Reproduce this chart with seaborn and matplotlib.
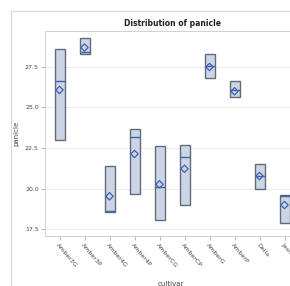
import numpy as np
import matplotlib
matplotlib.use("Agg")
import matplotlib.pyplot as plt
import seaborn as sns
import pandas as pd

cultivars = ["Amber3G", "Amber3P", "Amber4G", "Amber4P", "AmberCG",
             "AmberCP", "AmberG", "AmberP", "Della", "Jasmine"]
box_low = [23.0, 28.28, 18.55, 19.68, 18.04, 19.0, 26.82, 25.63, 19.99, 17.87]
box_high = [28.6, 29.27, 21.41, 23.65, 22.6, 22.7, 28.28, 26.64, 21.51, 19.6]
medians = [26.65, 28.4, 18.63, 23.2, 20.09, 21.93, 27.54, 26.06, 20.75, 19.52]
means = [26.08, 28.7, 19.52, 22.13, 20.26, 21.22, 27.5, 26.0, 20.77, 18.98]
yticks = [17.5, 20.0, 22.5, 25.0, 27.5]

sns.set_theme(style="white")
plt.rcParams['font.family'] = ['DejaVu Sans']

fig = plt.figure(figsize=(2.9, 2.86), dpi=100)
# outer graph frame
fig.patches.append(plt.Rectangle((11 / 290, -0.1), 1.2, 1 - 11 / 286 + 0.1,
                                 transform=fig.transFigure, fill=False,
                                 edgecolor="#d8d8d8", linewidth=0.8))
ax = fig.add_axes([45 / 290, 1 - 236 / 286, 251 / 290, 205 / 286])

stats = []
for i, c in enumerate(cultivars):
    stats.append({"label": c, "q1": box_low[i], "q3": box_high[i],
                  "med": medians[i], "mean": means[i],
                  "whislo": box_low[i], "whishi": box_high[i], "fliers": []})

ax.bxp(stats, positions=range(len(cultivars)), widths=0.4, patch_artist=True,
       showcaps=False, showfliers=False, showmeans=False,
       boxprops=dict(facecolor="#cbd5e6", edgecolor="#646b78", linewidth=1.0),
       medianprops=dict(color="#3f62b0", linewidth=1.0),
       whiskerprops=dict(linewidth=0))

df = pd.DataFrame({"cultivar": cultivars, "panicle": means})
sns.scatterplot(data=df, x="cultivar", y="panicle", ax=ax, marker="D", s=14,
                facecolor="none", edgecolor="#3f62b0", linewidth=0.9, zorder=5)

ax.set_xlim(-0.58, 9.46)
ax.set_ylim(17.07, 29.72)
ax.set_yticks(yticks)
ax.set_yticklabels([f"{v:.1f}" for v in yticks], fontsize=4.5, color="#444444")
ax.set_xticks(range(len(cultivars)))
ax.set_xticklabels(cultivars, rotation=-50, ha="left", rotation_mode="anchor",
                   fontsize=4.5, color="#444444")
ax.yaxis.grid(True, color="#ebebeb", linewidth=0.7)
ax.set_axisbelow(True)
ax.tick_params(axis="both", length=3, width=0.5, color="#999999", pad=1.5,
               left=True, bottom=True)
for side in ax.spines.values():
    side.set_color("#d0d0d0")
    side.set_linewidth(0.7)
ax.set_xlabel("cultivar", fontsize=5, color="#444444", labelpad=9)
ax.set_ylabel("panicle", fontsize=5, color="#444444", labelpad=4)
fig.text(172 / 290, 1 - 23 / 286, "Distribution of panicle", fontsize=5.5,
         fontweight="bold", ha="center", va="center", color="#222222")

fig.savefig("out.png", dpi=100)
